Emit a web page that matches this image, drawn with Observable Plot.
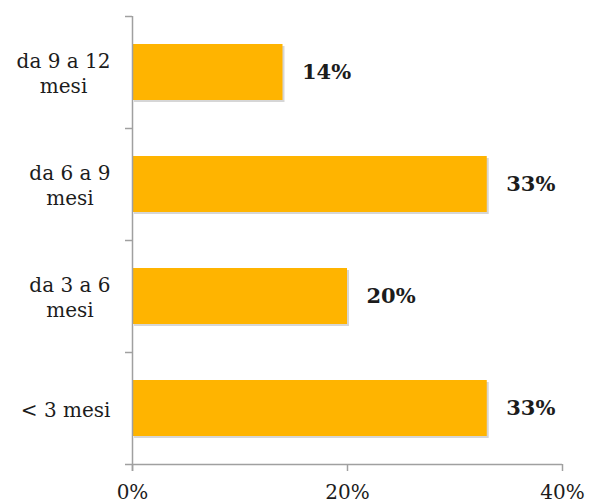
<!DOCTYPE html>
<html>
<head>
<meta charset="utf-8">
<script src="https://cdn.jsdelivr.net/npm/d3@7"></script>
<script src="https://cdn.jsdelivr.net/npm/@observablehq/plot@0.6"></script>
<style>
  html, body { margin: 0; padding: 0; background: #fff; }
  #chart svg { display: block; }
</style>
</head>
<body>
<div id="chart"></div>
<script>
// Duration categories, top to bottom
const categories = ["da 9 a 12 mesi", "da 6 a 9 mesi", "da 3 a 6 mesi", "< 3 mesi"];
// Axis labels, wrapped onto two lines where needed
const tickLabels = ["da 9 a 12\nmesi", "da 6 a 9\nmesi", "da 3 a 6\nmesi", "< 3 mesi"];
// Share of respondents per category
const shares = [0.14, 0.33, 0.20, 0.33];
// Percentage ticks along the bottom axis
const xTicks = [0, 0.2, 0.4];

const data = categories.map((c, i) => ({category: c, label: tickLabels[i], share: shares[i]}));
const pct = d3.format(".0%");

const width = 590, height = 503;
const margin = {top: 16, right: 28, bottom: 39, left: 132};
const halfStep = (height - margin.top - margin.bottom) / categories.length / 2;
const axisColor = "#a0a0a0";
const barColor = "#FFB400";
const textColor = "#1c1c1c";
const font = "DejaVu Serif, Liberation Serif, serif";

const chart = Plot.plot({
  width, height,
  marginTop: margin.top, marginRight: margin.right,
  marginBottom: margin.bottom, marginLeft: margin.left,
  style: {fontFamily: font, color: textColor, background: "#fff"},
  x: {domain: [0, 0.4], axis: null},
  y: {domain: categories, paddingInner: 0.5, paddingOuter: 0.25, axis: null},
  marks: [
    // soft shadow under each bar
    Plot.barX(data, {x: "share", y: "category", fill: "#000", fillOpacity: 0.16, dx: 2, dy: 2}),
    Plot.barX(data, {x: "share", y: "category", fill: barColor}),
    // vertical axis line with ticks between categories
    Plot.ruleX([0], {stroke: axisColor, strokeWidth: 1.5, insetBottom: -7}),
    Plot.ruleY(categories, {y: d => d, x1: 0, x2: 0, insetLeft: -7, dy: -halfStep, stroke: axisColor, strokeWidth: 1.5}),
    // horizontal axis line and ticks
    Plot.ruleY([0], {y: () => categories[categories.length - 1], dy: halfStep, insetLeft: -7, stroke: axisColor, strokeWidth: 1.5}),
    Plot.axisX({ticks: xTicks, tickFormat: pct, tickSize: 7, tickPadding: 13, stroke: axisColor, strokeWidth: 1.5, fontSize: 20, fill: textColor, label: null}),
    // category labels (each text element carries its category as aria-label)
    Plot.text(data, {y: "category", text: "label", ariaLabel: "category", frameAnchor: "left", dx: -22, textAnchor: "end", lineAnchor: "middle", lineHeight: 1.25, fontSize: 20, fill: textColor}),
    // value labels
    Plot.text(data, {x: "share", y: "category", text: d => pct(d.share), dx: 19, textAnchor: "start", fontSize: 21, fontWeight: "bold", fill: textColor})
  ]
});

document.getElementById("chart").appendChild(chart);

// centre the wrapped lines of each category label within its right-aligned block
chart.querySelectorAll("text[aria-label]").forEach(t => {
  if (!categories.includes(t.getAttribute("aria-label"))) return;
  const w = t.getBBox().width;
  t.setAttribute("text-anchor", "middle");
  t.setAttribute("transform", (t.getAttribute("transform") || "") + ` translate(${-w / 2},0)`);
});
</script>
</body>
</html>
